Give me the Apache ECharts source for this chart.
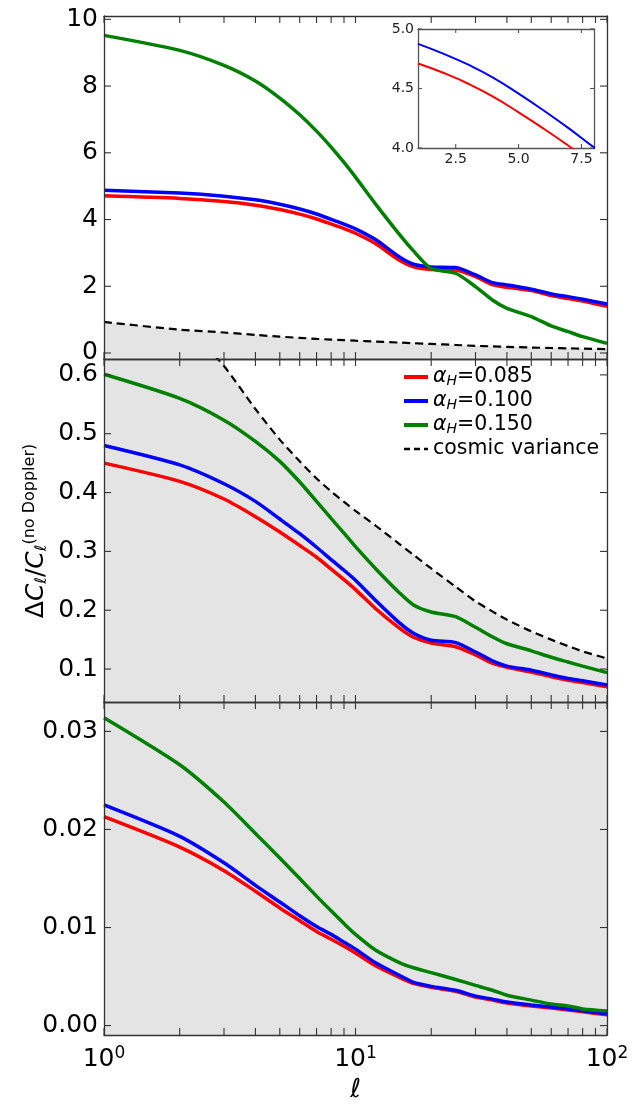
<!DOCTYPE html>
<html>
<head>
<meta charset="utf-8">
<script src="https://cdn.jsdelivr.net/npm/echarts@6/dist/echarts.min.js"></script>
<style>
  html, body { margin: 0; padding: 0; background: #fff; }
  #chart { width: 644px; height: 1104px; }
</style>
</head>
<body>
<div id="chart"></div>
<script>
// multipoles (x for every panel)
const ell = [1, 2, 3, 4, 5, 6, 7, 8, 9, 10, 12, 15, 17, 20, 25, 30, 35, 40, 50, 60, 70, 80, 100];

// top panel
const red1 = [4.71, 4.632, 4.54, 4.43, 4.30, 4.162, 4.017, 3.867, 3.73, 3.59, 3.28, 2.77, 2.58, 2.50, 2.49, 2.29, 2.05, 1.97, 1.87, 1.72, 1.63, 1.56, 1.40];
const blue1 = [4.875, 4.793, 4.70, 4.59, 4.457, 4.315, 4.165, 4.005, 3.865, 3.72, 3.40, 2.87, 2.66, 2.58, 2.56, 2.34, 2.11, 2.04, 1.91, 1.77, 1.69, 1.61, 1.47];
const green1 = [9.52, 9.07, 8.62, 8.15, 7.64, 7.14, 6.65, 6.17, 5.71, 5.27, 4.47, 3.54, 3.06, 2.53, 2.39, 1.99, 1.59, 1.34, 1.09, 0.81, 0.64, 0.49, 0.29];

// middle panel
const red2 = [0.450, 0.419, 0.389, 0.359, 0.333, 0.310, 0.290, 0.270, 0.252, 0.235, 0.203, 0.169, 0.154, 0.144, 0.138, 0.124, 0.110, 0.103, 0.095, 0.087, 0.081, 0.077, 0.070];
const blue2 = [0.480, 0.447, 0.415, 0.385, 0.355, 0.330, 0.307, 0.286, 0.268, 0.251, 0.217, 0.178, 0.161, 0.149, 0.145, 0.129, 0.114, 0.105, 0.098, 0.090, 0.084, 0.080, 0.073];
const green2 = [0.601, 0.560, 0.523, 0.487, 0.453, 0.418, 0.385, 0.356, 0.331, 0.308, 0.271, 0.229, 0.209, 0.197, 0.189, 0.171, 0.155, 0.143, 0.131, 0.120, 0.112, 0.105, 0.094];

// bottom panel
const red3 = [0.0213, 0.0182, 0.0158, 0.0137, 0.0120, 0.0107, 0.0096, 0.0088, 0.0081, 0.0074, 0.0061, 0.0049, 0.0043, 0.0039, 0.0035, 0.0029, 0.0026, 0.0023, 0.0020, 0.0018, 0.0016, 0.0014, 0.0011];
const blue3 = [0.0225, 0.0193, 0.0166, 0.0143, 0.0126, 0.0112, 0.0101, 0.0093, 0.0085, 0.0078, 0.0064, 0.0051, 0.0044, 0.0040, 0.0036, 0.0030, 0.0027, 0.0024, 0.0021, 0.0019, 0.0017, 0.0015, 0.0012];
const green3 = [0.0314, 0.0266, 0.0228, 0.0196, 0.0171, 0.0150, 0.0132, 0.0117, 0.0104, 0.0093, 0.0077, 0.0064, 0.0059, 0.0054, 0.0047, 0.0041, 0.0036, 0.0031, 0.0026, 0.0022, 0.0020, 0.0017, 0.0015];

// cosmic variance (dashed, shaded below)
const cv = [0.93, 0.70, 0.615, 0.542, 0.490, 0.453, 0.424, 0.402, 0.384, 0.369, 0.344, 0.312, 0.294, 0.271, 0.240, 0.215, 0.198, 0.184, 0.164, 0.150, 0.139, 0.130, 0.118];

// ticks
const xTicks = [1, 2, 3, 4, 5, 6, 7, 8, 9, 10, 20, 30, 40, 50, 60, 70, 80, 90, 100];
const xLabels = [1, 10, 100];
const yTicks1 = [0, 2, 4, 6, 8, 10];
const yTicks2 = [0.1, 0.2, 0.3, 0.4, 0.5, 0.6];
const yTicks3 = [0, 0.01, 0.02, 0.03];
const insetX = [2.5, 5.0, 7.5];
const insetY = [4.0, 4.5, 5.0];

const names = ['aH=0.085', 'aH=0.100', 'aH=0.150', 'cosmic variance'];
const colors = ['#ff0000', '#0000ff', '#008000'];

const F = 'DejaVu Sans';
const AX = '#333';

// axis ranges
const xr = [1, 100];
const yr1 = [-0.18, 10.1];
const yr2 = [0.044, 0.627];
const yr3 = [-0.00096, 0.033];
const ixr = [1, 8];
const iyr = [4, 5];

function pts(ys) {
  return ys.map((y, i) => [ell[i], y]);
}

function xAxis(grid, pos, type, range, labels) {
  const a = {
    type: type, gridIndex: grid, position: pos, min: range[0], max: range[1], z: 5,
    axisLine: { show: true, onZero: false, lineStyle: { color: grid === 3 ? '#555' : AX, width: 1.3 } },
    axisTick: { show: false },
    splitLine: { show: false },
    axisLabel: { show: false }
  };
  if (type === 'log') a.logBase = 10;
  if (labels === 'log') {
    a.axisLabel = {
      show: true, customValues: xLabels, margin: 10,
      formatter: v => '{b|10}{s|' + Math.round(Math.log10(v)) + '}',
      rich: {
        b: { fontFamily: F, fontSize: 25, color: '#000' },
        s: { fontFamily: F, fontSize: 17, color: '#000', verticalAlign: 'top', padding: [0, 0, 12, 0] }
      }
    };
    a.name = 'ℓ';
    a.nameLocation = 'middle';
    a.nameGap = 42;
    a.nameTextStyle = { fontFamily: F, fontSize: 26, fontStyle: 'italic', color: '#000' };
  } else if (labels) {
    a.axisLabel = {
      show: true, customValues: labels, margin: 4,
      formatter: v => v.toFixed(1),
      fontFamily: F, fontSize: 14, color: '#222'
    };
  }
  return a;
}

function yAxis(grid, pos, range, labels, digits, size) {
  return {
    type: 'value', gridIndex: grid, position: pos, min: range[0], max: range[1], z: 5,
    axisLine: { show: true, onZero: false, lineStyle: { color: grid === 3 ? '#555' : AX, width: 1.3 } },
    axisTick: { show: false },
    splitLine: { show: false },
    axisLabel: labels ? {
      show: true, customValues: labels, margin: grid === 3 ? 4 : 6,
      formatter: v => v.toFixed(digits),
      fontFamily: F, fontSize: size, color: grid === 3 ? '#222' : '#000'
    } : { show: false }
  };
}

// inward ticks on all four sides, placed through the axes' own scales
function ticks(idx, xrange, yrange, xt, yt, len, color, z) {
  const data = xt.map(v => [v, yrange[0], 0]).concat(yt.map(v => [xrange[0], v, 1]));
  return {
    type: 'custom', xAxisIndex: idx, yAxisIndex: idx, silent: true, clip: false, z: z,
    data: data,
    renderItem: (params, api) => {
      const kind = api.value(2);
      let segs;
      if (kind === 0) {
        const v = api.value(0);
        const a = api.coord([v, yrange[0]]), b = api.coord([v, yrange[1]]);
        segs = [[a[0], a[1], a[0], a[1] - len], [b[0], b[1], b[0], b[1] + len]];
      } else {
        const v = api.value(1);
        const a = api.coord([xrange[0], v]), b = api.coord([xrange[1], v]);
        segs = [[a[0], a[1], a[0] + len, a[1]], [b[0], b[1], b[0] - len, b[1]]];
      }
      return {
        type: 'group',
        children: segs.map(s => ({
          type: 'line',
          shape: { x1: s[0], y1: s[1], x2: s[2], y2: s[3] },
          style: { stroke: color, lineWidth: 1.1 }
        }))
      };
    }
  };
}

function line(name, data, idx, color, width, z, sm) {
  return {
    name: name, type: 'line', data: data, xAxisIndex: idx, yAxisIndex: idx,
    symbol: 'none', smooth: sm, clip: true, z: z,
    lineStyle: { color: color, width: width },
    itemStyle: { color: color }
  };
}

function cvFill(idx) {
  return {
    name: 'cv-fill', type: 'line', data: pts(cv), xAxisIndex: idx, yAxisIndex: idx,
    symbol: 'none', smooth: 0.25, clip: true, silent: true, z: 1,
    lineStyle: { width: 0, opacity: 0 },
    areaStyle: { color: '#e4e4e4', opacity: 1, origin: 'start' }
  };
}

function cvLine(idx) {
  return {
    name: names[3], type: 'line', data: pts(cv), xAxisIndex: idx, yAxisIndex: idx,
    symbol: 'none', smooth: 0.25, clip: true, z: 2,
    lineStyle: { color: '#000', width: 2.2, type: [8, 5] },
    itemStyle: { color: '#000' }
  };
}

const panels = [[red1, blue1, green1], [red2, blue2, green2], [red3, blue3, green3]];
const yRanges = [yr1, yr2, yr3];
const yTickSets = [yTicks1, yTicks2, yTicks3];
const series = [];
panels.forEach((p, k) => {
  if (k < 2) {
    series.push(cvFill(k));
    series.push(cvLine(k));
  }
  p.forEach((ys, j) => series.push(line(names[j], pts(ys), k, colors[j], 3.5, 3, 0.25)));
  series.push(ticks(k, xr, yRanges[k], xTicks, yTickSets[k], 7, AX, 6));
});
// inset: zoom on the top panel, red and blue
series.push(line(names[0], pts(red1), 3, colors[0], 2, 8, 0.5));
series.push(line(names[1], pts(blue1), 3, colors[1], 2, 8, 0.5));
series.push(ticks(3, ixr, iyr, insetX, insetY, 4, '#555', 9));

const chart = echarts.init(document.getElementById('chart'));
chart.setOption({
  animation: false,
  backgroundColor: '#fff',
  grid: [
    { left: 104, top: 16, width: 503, height: 343 },
    { left: 104, top: 359, width: 503, height: 343 },
    { left: 104, top: 702, width: 503, height: 342, show: true, backgroundColor: '#e4e4e4', borderWidth: 0 },
    { left: 418, top: 29, width: 176, height: 119, show: true, backgroundColor: '#fff', borderWidth: 0, z: 4 }
  ],
  // one axis per grid first (indices 0..3), then the mirrored top/right ones
  xAxis: [
    xAxis(0, 'bottom', 'log', xr, null),
    xAxis(1, 'bottom', 'log', xr, null),
    xAxis(2, 'bottom', 'log', xr, 'log'),
    xAxis(3, 'bottom', 'value', ixr, insetX),
    xAxis(0, 'top', 'log', xr, null),
    xAxis(1, 'top', 'log', xr, null),
    xAxis(2, 'top', 'log', xr, null),
    xAxis(3, 'top', 'value', ixr, null)
  ],
  yAxis: [
    yAxis(0, 'left', yr1, yTicks1, 0, 25),
    yAxis(1, 'left', yr2, yTicks2, 1, 25),
    yAxis(2, 'left', yr3, yTicks3, 2, 25),
    yAxis(3, 'left', iyr, insetY, 1, 14),
    yAxis(0, 'right', yr1, null),
    yAxis(1, 'right', yr2, null),
    yAxis(2, 'right', yr3, null),
    yAxis(3, 'right', iyr, null)
  ],
  legend: {
    data: [
      { name: names[0], lineStyle: { color: colors[0], width: 4 } },
      { name: names[1], lineStyle: { color: colors[1], width: 4 } },
      { name: names[2], lineStyle: { color: colors[2], width: 4 } },
      { name: names[3], lineStyle: { color: '#000', width: 2.4, type: [6, 4] } }
    ],
    orient: 'vertical',
    left: 402, top: 366, padding: 0,
    itemWidth: 24, itemHeight: 12, itemGap: 2,
    itemStyle: { opacity: 0 },
    formatter: name => name.indexOf('aH=') === 0
      ? '{a|α}{s|H}{n|' + name.slice(2) + '}'
      : '{n|' + name + '}',
    textStyle: {
      fontFamily: F, fontSize: 20.5, color: '#000', lineHeight: 22,
      rich: {
        a: { fontFamily: F, fontSize: 20.5, fontStyle: 'italic', color: '#000' },
        s: { fontFamily: F, fontSize: 14, fontStyle: 'italic', color: '#000', verticalAlign: 'bottom', padding: [8, 0, 0, 0] },
        n: { fontFamily: F, fontSize: 20.5, color: '#000' }
      }
    }
  },
  graphic: [{
    type: 'text', x: 36, y: 531, rotation: Math.PI / 2,
    style: {
      text: '{d|Δ}{c|C}{l|ℓ}{d|/}{c|C}{l|ℓ}{u|(no Doppler)}',
      align: 'center', verticalAlign: 'middle',
      rich: {
        d: { fontFamily: F, fontSize: 25, fill: '#000' },
        c: { fontFamily: F, fontSize: 25, fontStyle: 'italic', fill: '#000' },
        l: { fontFamily: F, fontSize: 16, fontStyle: 'italic', fill: '#000', verticalAlign: 'bottom', padding: [10, 0, 0, 0] },
        u: { fontFamily: F, fontSize: 16, fill: '#000', verticalAlign: 'top', padding: [0, 0, 12, 0] }
      }
    }
  }],
  series: series
});
</script>
</body>
</html>
